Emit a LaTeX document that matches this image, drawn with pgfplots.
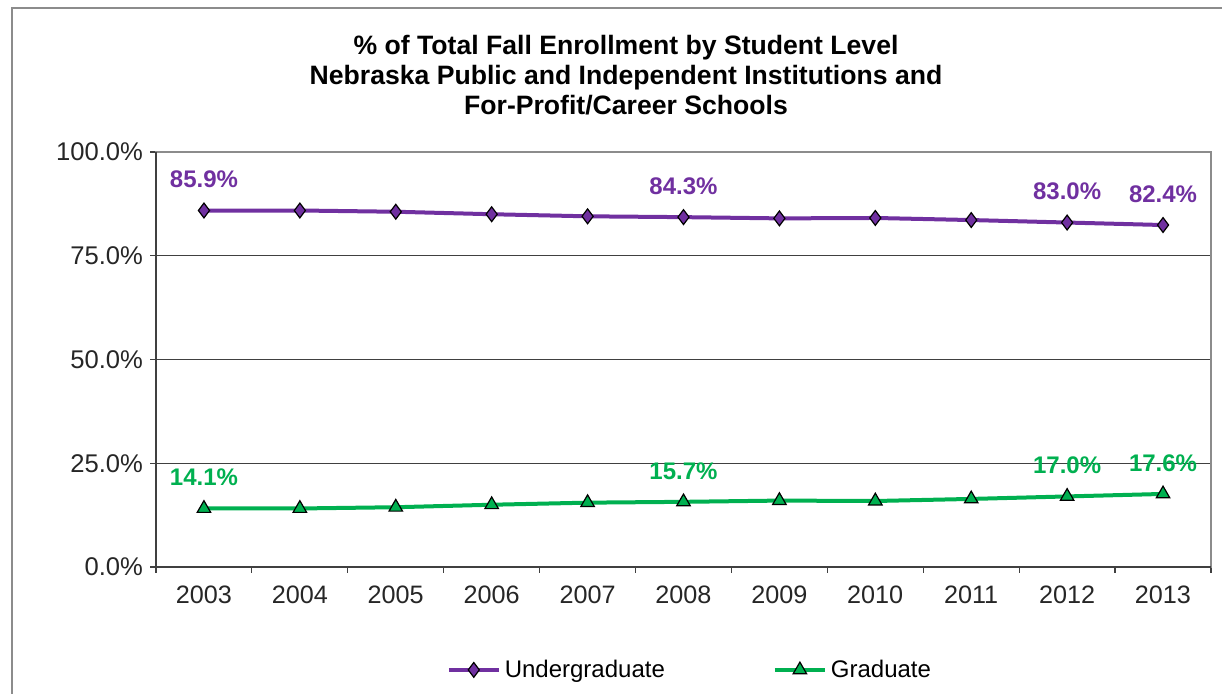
\documentclass[border=0pt]{standalone}
\usepackage{fontspec}
\setmainfont{Liberation Sans}
\usepackage{pgfplots}
\pgfplotsset{compat=1.18}
\definecolor{ugpurple}{HTML}{7030A0}
\definecolor{grgreen}{HTML}{00B050}
\definecolor{framegray}{HTML}{8C8C8C}
\definecolor{axisgray}{HTML}{404040}
\newcommand{\fs}{\fontsize{12}{14}\selectfont}
\newcommand{\fst}{\fontsize{12.6}{14}\selectfont}

\begin{document}
\begin{tikzpicture}
\path[use as bounding box] (0,0) rectangle (611pt,347pt);
% outer chart frame (only left and top show in the reference)
\draw[framegray, line width=0.8pt] (6pt,-5pt) -- (6pt,343pt) -- (620pt,343pt);
\node[font=\bfseries\fontsize{13.3}{15}\selectfont, align=center] at (313pt,309.5pt)
  {\% of Total Fall Enrollment by Student Level\\Nebraska Public and Independent Institutions and\\For-Profit/Career Schools};
\begin{axis}[
    at={(78pt,63.5pt)}, anchor=south west,
    scale only axis, width=527.5pt, height=207.5pt,
    xmin=2002.5, xmax=2013.5, ymin=0, ymax=100,
    xtick={2003,...,2013},
    minor xtick={2002.5,2003.5,...,2013.5},
    ytick={0,25,50,75,100},
    xtick pos=left, ytick pos=left,
    tick align=outside,
    major x tick style={draw=none},
    minor x tick style={axisgray, line width=0.6pt},
    major y tick style={axisgray, line width=0.6pt},
    major tick length=3pt, minor tick length=3pt,
    ymajorgrids,
    major y grid style={axisgray, line width=0.5pt},
    axis line style={framegray, line width=0.8pt},
    /pgf/number format/assume math mode=true,
    xticklabel style={/pgf/number format/1000 sep=, font=\fst, text=black!85, yshift=-3pt},
    yticklabel={\pgfmathprintnumber[fixed,fixed zerofill,precision=1]{\tick}\%},
    yticklabel style={font=\fontsize{12.8}{14}\selectfont, text=black!85},
    legend style={at={(axis description cs:0.507,-0.248)}, anchor=center, draw=none,
        legend columns=2, font=\fs,
        /tikz/every even column/.append style={column sep=52pt}},
    legend image code/.code={\draw[mark repeat=2,mark phase=2] plot coordinates {(0pt,0pt)(12.5pt,0pt)(25pt,0pt)};},
    clip=false,
]
\addplot[ugpurple, line width=2pt, mark=diamond*, mark size=3.7pt,
    mark options={fill=ugpurple, draw=black, line width=0.6pt}]
  coordinates {(2003,85.9) (2004,85.9) (2005,85.6) (2006,85.0) (2007,84.5) (2008,84.3)
               (2009,84.0) (2010,84.1) (2011,83.6) (2012,83.0) (2013,82.4)};
\addplot[grgreen, line width=2pt, mark=triangle*, mark size=3.9pt,
    mark options={fill=grgreen, draw=black, line width=0.6pt}]
  coordinates {(2003,14.1) (2004,14.1) (2005,14.4) (2006,15.0) (2007,15.5) (2008,15.7)
               (2009,16.0) (2010,15.9) (2011,16.4) (2012,17.0) (2013,17.6)};
% data labels
\addplot[forget plot, draw=none, mark=none, nodes near coords, point meta=explicit symbolic,
    every node near coord/.append style={font=\bfseries\fs, text=ugpurple, anchor=center, yshift=15.5pt}]
  coordinates {(2003,85.9)[85.9\%] (2008,84.3)[84.3\%] (2012,83.0)[83.0\%] (2013,82.4)[82.4\%]};
\addplot[forget plot, draw=none, mark=none, nodes near coords, point meta=explicit symbolic,
    every node near coord/.append style={font=\bfseries\fs, text=grgreen, anchor=center, yshift=15.5pt}]
  coordinates {(2003,14.1)[14.1\%] (2008,15.7)[15.7\%] (2012,17.0)[17.0\%] (2013,17.6)[17.6\%]};
\legend{Undergraduate, Graduate}
% darker left and bottom axis lines
\draw[axisgray, line width=0.8pt] (rel axis cs:0,1) -- (rel axis cs:0,0) -- (rel axis cs:1,0);
\end{axis}
\end{tikzpicture}
\end{document}
